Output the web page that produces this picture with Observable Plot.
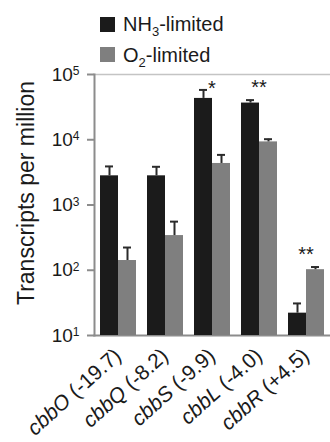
<!DOCTYPE html>
<html><head><meta charset="utf-8">
<script src="https://cdn.jsdelivr.net/npm/d3@7"></script>
<script src="https://cdn.jsdelivr.net/npm/@observablehq/plot@0.6"></script>
<style>
body{margin:0;background:#fff;font-family:"Liberation Sans",Arial,sans-serif;}
#wrap{position:relative;width:330px;height:442px;overflow:hidden;}
#wrap svg{position:absolute;left:0;top:0;}
.sw{position:absolute;width:15px;height:15px;}
.lt{position:absolute;font-size:20px;line-height:20px;color:#1a1a1a;white-space:nowrap;}
.lt sub{font-size:13px;vertical-align:-5px;line-height:0;}
</style></head><body><div id="wrap"></div>
<script>
// ---- data ----
const genes = ["cbbO (-19.7)", "cbbQ (-8.2)", "cbbS (-9.9)", "cbbL (-4.0)", "cbbR (+4.5)"];
const conditions = ["NH3-limited", "O2-limited"];
const nh3Values = [2800, 2800, 43000, 36500, 22];
const nh3Upper  = [3900, 3850, 58000, 40500, 31];
const o2Values  = [141, 340, 4330, 9270, 102];
const o2Upper   = [223, 556, 5860, 10200, 112];
const starText  = ["", "", "*", "**", "**"];
const starLevel = [null, null, 61000, 63000, 173];
const yTicks = [10, 100, 1000, 10000, 100000];
const yLabel = "Transcripts per million";
const colors = ["#1b1b1b", "#7f7f7f"];

const rows = [];
genes.forEach((g, i) => {
  rows.push({gene: g, cond: conditions[0], value: nh3Values[i], upper: nh3Upper[i]});
  rows.push({gene: g, cond: conditions[1], value: o2Values[i], upper: o2Upper[i]});
});
const stars = genes.map((g, i) => ({gene: g, text: starText[i], y: starLevel[i]})).filter(d => d.text);

const axisGray = "#8c8c8c";
const chart = Plot.plot({
  width: 330,
  height: 442,
  marginTop: 74,
  marginBottom: 107,
  marginLeft: 93,
  marginRight: 1,
  style: {fontFamily: "'Liberation Sans', Arial, sans-serif", fontSize: "20px", color: "#1a1a1a", background: "transparent"},
  fx: {domain: genes, padding: 0, label: null},
  x: {domain: conditions, padding: 0, inset: 4.6, axis: null},
  y: {type: "log", domain: [10, 100000], axis: null},
  color: {domain: conditions, range: colors},
  marks: [
    Plot.frame({anchor: "top", stroke: "#c4c4c4", strokeWidth: 1.5, facet: "super"}),
    Plot.frame({anchor: "bottom", stroke: axisGray, strokeWidth: 2, facet: "super"}),
    Plot.frame({anchor: "left", stroke: axisGray, strokeWidth: 2, facet: "super"}),
    Plot.axisY({anchor: "left", ticks: yTicks, tickSize: 7, tickPadding: 8, fontSize: 19,
      stroke: axisGray, strokeWidth: 2, fill: "#1a1a1a", label: null,
      tickFormat: d => "10^" + Math.round(Math.log10(d))}),
    Plot.text([yLabel], {facetAnchor: "left", frameAnchor: "left", textAnchor: "middle", rotate: -90, dx: -68, dy: -12, fontSize: 23, fill: "#1a1a1a"}),
    Plot.barY(rows, {fx: "gene", x: "cond", y1: 10, y2: "value", fill: "cond"}),
    Plot.ruleX(rows, {fx: "gene", x: "cond", y1: "value", y2: "upper", stroke: "#2b2b2b", strokeWidth: 2}),
    Plot.tickY(rows, {fx: "gene", x: "cond", y: "upper", stroke: "#2b2b2b", strokeWidth: 2, insetLeft: 5, insetRight: 5}),
    Plot.text(stars, {fx: "gene", y: "y", text: "text", fontSize: 20, fill: "#1a1a1a"}),
    Plot.axisFx({anchor: "bottom", tickSize: 0, tickPadding: 17, tickRotate: -42, fontSize: 21, fill: "#1a1a1a", label: null})
  ]
});

// superscript exponents and italic gene names
const NS = "http://www.w3.org/2000/svg";
chart.querySelectorAll("text").forEach(t => {
  const s = t.textContent;
  let m = s.match(/^10\^(\d+)$/);
  if (m) {
    t.textContent = "10";
    const sup = document.createElementNS(NS, "tspan");
    sup.setAttribute("font-size", "12");
    sup.setAttribute("dy", "-5.5");
    sup.textContent = m[1];
    t.appendChild(sup);
    return;
  }
  m = s.match(/^(cbb\w)(\s.*)$/);
  if (m) {
    t.textContent = "";
    const a = document.createElementNS(NS, "tspan");
    a.setAttribute("font-style", "italic");
    a.textContent = m[1];
    const b = document.createElementNS(NS, "tspan");
    b.textContent = m[2];
    t.appendChild(a); t.appendChild(b);
  }
});

const wrap = document.getElementById("wrap");
wrap.appendChild(chart);

// legend (HTML, above the plot area)
const legendTops = [14, 45];
const legendSquares = [17, 47];
const legendHtml = ["NH<sub>3</sub>-limited", "O<sub>2</sub>-limited"];
conditions.forEach((c, i) => {
  const sw = document.createElement("div");
  sw.className = "sw";
  sw.style.left = "100px";
  sw.style.top = legendSquares[i] + "px";
  sw.style.background = colors[i];
  wrap.appendChild(sw);
  const lt = document.createElement("div");
  lt.className = "lt";
  lt.style.left = "123px";
  lt.style.top = legendTops[i] + "px";
  lt.innerHTML = legendHtml[i];
  wrap.appendChild(lt);
});
</script></body></html>
